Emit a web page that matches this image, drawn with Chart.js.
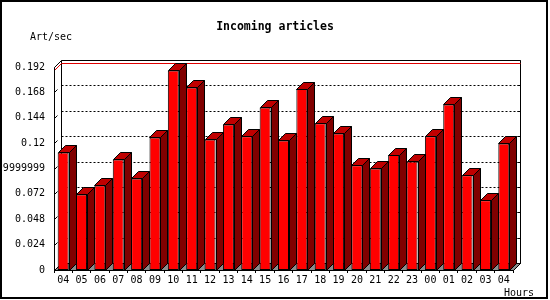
<!DOCTYPE html>
<html>
<head>
<meta charset="utf-8">
<script src="https://cdn.jsdelivr.net/npm/chart.js@4/dist/chart.umd.min.js"></script>
<style>
  html, body { margin: 0; padding: 0; background: #fff; }
  #wrap { width: 550px; height: 300px; }
</style>
</head>
<body>
<div id="wrap"><canvas id="articles_chart" width="550" height="300"></canvas></div>
<script>
// hours of the day, oldest first
var hours = ['04', '05', '06', '07', '08', '09', '10', '11', '12', '13', '14', '15', '16',
             '17', '18', '19', '20', '21', '22', '23', '00', '01', '02', '03', '04'];

// incoming articles per second for each hour
var artPerSec = [0.1112, 0.0715, 0.0800, 0.1046, 0.0866, 0.1254, 0.1887, 0.1727, 0.1235,
                 0.1377, 0.1266, 0.1538, 0.1226, 0.1711, 0.1387, 0.1292, 0.0990, 0.0961,
                 0.1087, 0.1027, 0.1266, 0.1566, 0.0895, 0.0659, 0.1197];

var yTicks = [0, 0.024, 0.048, 0.072, 0.096, 0.12, 0.144, 0.168, 0.192];
var yTickLabels = ['0', '0.024', '0.048', '0.072', '0.09599999999999999', '0.12', '0.144', '0.168', '0.192'];

var monoFont = '"DejaVu Sans Mono", "Liberation Mono", monospace';
var depth = 7;

function line(ctx, x1, y1, x2, y2) {
  ctx.beginPath();
  ctx.moveTo(x1, y1);
  ctx.lineTo(x2, y2);
  ctx.stroke();
}

function poly(ctx, pts, fill) {
  ctx.beginPath();
  ctx.moveTo(pts[0][0], pts[0][1]);
  for (var i = 1; i < pts.length; i++) ctx.lineTo(pts[i][0], pts[i][1]);
  ctx.closePath();
  ctx.fillStyle = fill;
  ctx.fill();
  ctx.stroke();
}

// back panel, floor, grid and max line (behind the bars)
var backPlugin = {
  id: 'backPlane',
  beforeDatasetsDraw: function(chart) {
    var ctx = chart.ctx, a = chart.chartArea, ys = chart.scales.y;
    var L = Math.round(a.left) + 0.5, R = Math.round(a.right) + 0.5;
    var T = Math.round(a.top) + 0.5, B = Math.round(a.bottom) + 0.5;
    ctx.save();
    ctx.lineWidth = 1;
    ctx.strokeStyle = '#000';

    // floor
    poly(ctx, [[L, B], [R, B], [R + depth, B - depth], [L + depth, B - depth]], '#8c8c8c');

    // dotted grid on the back wall
    ctx.setLineDash([2, 2]);
    yTicks.forEach(function(v) {
      if (v <= 0 || v >= yTicks[yTicks.length - 1]) return;
      var yy = Math.round(ys.getPixelForValue(v)) - depth + 0.5;
      line(ctx, L + depth, yy, R + depth, yy);
    });
    ctx.setLineDash([]);
    yTicks.forEach(function(v) {
      var yy = Math.round(ys.getPixelForValue(v)) - depth + 0.5;
      line(ctx, R + depth - 3, yy, R + depth, yy);
    });

    // back wall outline
    line(ctx, L + depth, T - depth, R + depth, T - depth);
    line(ctx, L + depth, T - depth, L + depth, B - depth);
    line(ctx, R + depth, T - depth, R + depth, B - depth);
    line(ctx, L, T, L + depth, T - depth);
    line(ctx, R, B, R + depth, B - depth);

    // red line at the maximum value
    var my = Math.round(ys.getPixelForValue(Math.max.apply(null, artPerSec))) + 0.5;
    ctx.strokeStyle = '#e00000';
    ctx.beginPath();
    ctx.moveTo(L, my);
    ctx.lineTo(L + depth, my - depth);
    ctx.lineTo(R + depth, my - depth);
    ctx.stroke();
    ctx.restore();
  },

  // top and side faces of each bar, then the front axes and texts
  afterDatasetsDraw: function(chart) {
    var ctx = chart.ctx, a = chart.chartArea, ys = chart.scales.y;
    var L = Math.round(a.left) + 0.5, R = Math.round(a.right) + 0.5;
    var T = Math.round(a.top) + 0.5, B = Math.round(a.bottom) + 0.5;
    ctx.save();
    ctx.lineWidth = 1;
    ctx.strokeStyle = '#000';
    chart.getDatasetMeta(0).data.forEach(function(bar) {
      var p = bar.getProps(['x', 'y', 'width', 'base'], true);
      var bl = Math.round(p.x - p.width / 2) + 0.5, br = Math.round(p.x + p.width / 2) + 0.5;
      var bt = Math.round(p.y) + 0.5, bb = Math.round(p.base) + 0.5;
      poly(ctx, [[bl, bt], [bl + depth, bt - depth], [br + depth, bt - depth], [br, bt]], '#c00000');
      poly(ctx, [[br, bt], [br + depth, bt - depth], [br + depth, bb - depth], [br, bb]], '#800000');
    });

    // front axes
    line(ctx, L, T, L, B);
    line(ctx, L, B, R, B);
    yTicks.forEach(function(v) {
      var yy = Math.round(ys.getPixelForValue(v)) + 0.5;
      line(ctx, L, yy, L + 3, yy - 3);
    });

    // texts
    ctx.fillStyle = '#000';
    ctx.textBaseline = 'middle';
    ctx.textAlign = 'center';
    ctx.font = 'bold 11.5px ' + monoFont;
    ctx.fillText('Incoming articles', 275, 27);
    ctx.textAlign = 'left';
    ctx.font = '10px ' + monoFont;
    ctx.fillText('Art/sec', 30, 37);
    ctx.fillText('Hours', 504, 293);

    // image frame
    ctx.lineWidth = 2;
    ctx.strokeRect(1, 1, 546, 297);
    ctx.restore();
  }
};

var chart_element = document.getElementById('articles_chart').getContext('2d');
var myChart = new Chart(chart_element, {
  type: 'bar',
  data: {
    labels: hours,
    datasets: [{
      label: 'Art/sec',
      data: artPerSec,
      backgroundColor: '#ff0000',
      borderColor: '#000000',
      borderWidth: 1,
      borderSkipped: false,
      barPercentage: 0.6,
      categoryPercentage: 1.0
    }]
  },
  options: {
    responsive: false,
    animation: false,
    events: [],
    layout: { padding: { left: 0, right: 37, top: 67, bottom: 0 } },
    plugins: {
      legend: { display: false },
      tooltip: { enabled: false },
      title: { display: false }
    },
    scales: {
      x: {
        grid: { display: true, drawOnChartArea: false, drawTicks: true, tickLength: 3, color: '#000', offset: true },
        border: { display: false },
        ticks: {
          color: '#000',
          font: { family: monoFont, size: 10 },
          padding: 1,
          maxRotation: 0,
          autoSkip: false
        },
        afterFit: function(scale) { scale.height = 30; }
      },
      y: {
        min: 0,
        max: 0.192,
        grid: { display: false, drawTicks: false },
        border: { display: false },
        afterBuildTicks: function(scale) {
          scale.ticks = yTicks.map(function(v) { return { value: v }; });
        },
        ticks: {
          color: '#000',
          font: { family: monoFont, size: 10 },
          padding: 9,
          callback: function(value, index) { return yTickLabels[index]; }
        },
        afterFit: function(scale) { scale.width = 54; }
      }
    }
  },
  plugins: [backPlugin]
});
</script>
</body>
</html>
